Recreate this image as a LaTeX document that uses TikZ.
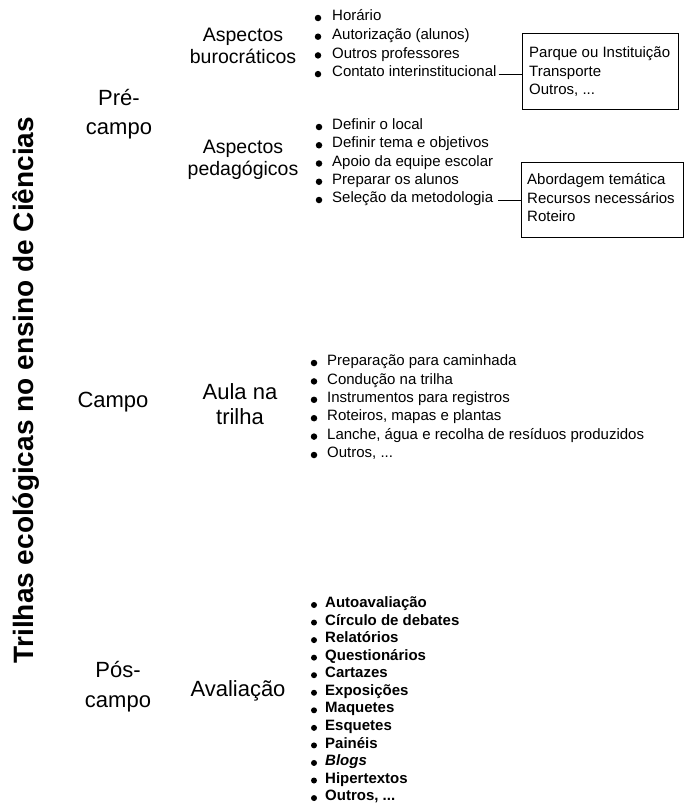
\documentclass[tikz,border=0pt]{standalone}
\usepackage{fontspec}
\setmainfont{Liberation Sans}
\newcommand\trdots{...}
\begin{document}
\begin{tikzpicture}[x=1pt,y=-1pt,
  title/.style={font=\fontsize{28}{30}\selectfont\bfseries, rotate=90, inner sep=0pt},
  stage/.style={font=\fontsize{22}{29}\selectfont, align=center, inner sep=0pt},
  head/.style={font=\fontsize{19.5}{22}\selectfont, align=center, inner sep=0pt},
  head2/.style={font=\fontsize{22}{25}\selectfont, align=center, inner sep=0pt},
  item/.style={font=\fontsize{15}{18}\selectfont, anchor=west, inner sep=0pt, text height=0.72em, text depth=0.2em},
  bitem/.style={item, font=\fontsize{15}{18}\selectfont\bfseries},
  dot/.style={circle, fill=black, inner sep=0pt, minimum size=6.5pt},
  frame/.style={draw, line width=0.8pt, inner sep=0pt, anchor=north west},
  link/.style={line width=0.6pt}]
\path[use as bounding box] (0,0) rectangle (684,806);

% title
\node[title] (t) at (26,390) {Trilhas ecológicas no ensino de Ciências};

% stages
\node[stage] (s1) at (119,114) {Pré-\\campo};
\node[stage] (s2) at (113,402) {Campo};
\node[stage, font=\fontsize{22}{30}\selectfont] (s3) at (118,687) {Pós-\\campo};

% headings
\node[head] (h1) at (243,46) {Aspectos\\burocráticos};
\node[head] (h2) at (243,160) {Aspectos\\pedagógicos};
\node[head2] (h3) at (240,404) {Aula na\\trilha};
\node[head2] (h4) at (238,691) {Avaliação};

% list 1
\foreach \t [count=\i] in {Horário, Autorização (alunos), Outros professores, Contato interinstitucional} {
  \node[item] (a\i) at (332,{18+18.7*(\i-1)}) {\t};
  \node[dot] (ad\i) at (318,{18+18.7*(\i-1)}) {};
}
% list 2
\foreach \t [count=\i] in {Definir o local, Definir tema e objetivos, Apoio da equipe escolar, Preparar os alunos, Seleção da metodologia} {
  \node[item] (b\i) at (332,{127+18.25*(\i-1)}) {\t};
  \node[dot] (bd\i) at (319,{127+18.25*(\i-1)}) {};
}
% list 3
\foreach \t [count=\i] in {Preparação para caminhada, Condução na trilha, Instrumentos para registros, {Roteiros, mapas e plantas}, {Lanche, água e recolha de resíduos produzidos}, {Outros, \trdots}} {
  \node[item] (c\i) at (327,{363+18.4*(\i-1)}) {\t};
  \node[dot] (cd\i) at (314,{363+18.4*(\i-1)}) {};
}
% list 4
\foreach \t [count=\i] in {Autoavaliação, Círculo de debates, Relatórios, Questionários, Cartazes, Exposições, Maquetes, Esquetes, Painéis, {\textit{Blogs}}, Hipertextos, {Outros, \trdots}} {
  \node[bitem] (d\i) at (325,{605+17.55*(\i-1)}) {\t};
  \node[dot, minimum size=6pt] (dd\i) at (314,{605+17.55*(\i-1)}) {};
}

% box 1
\node[frame, minimum width=156pt, minimum height=76pt] (box1) at (522,33) {};
\node[item] (p1) at (529,55) {Parque ou Instituição};
\node[item] (p2) at (529,73.5) {Transporte};
\node[item] (p3) at (529,92) {Outros, \trdots};
\draw[link] ([xshift=2pt]a4.east) -- (a4.east -| box1.west);

% box 2
\node[frame, minimum width=162pt, minimum height=75pt] (box2) at (521,162) {};
\node[item] (q1) at (527,182) {Abordagem temática};
\node[item] (q2) at (527,200.5) {Recursos necessários};
\node[item] (q3) at (527,219) {Roteiro};
\draw[link] ([xshift=5pt]b5.east) -- (b5.east -| box2.west);
\end{tikzpicture}
\end{document}
